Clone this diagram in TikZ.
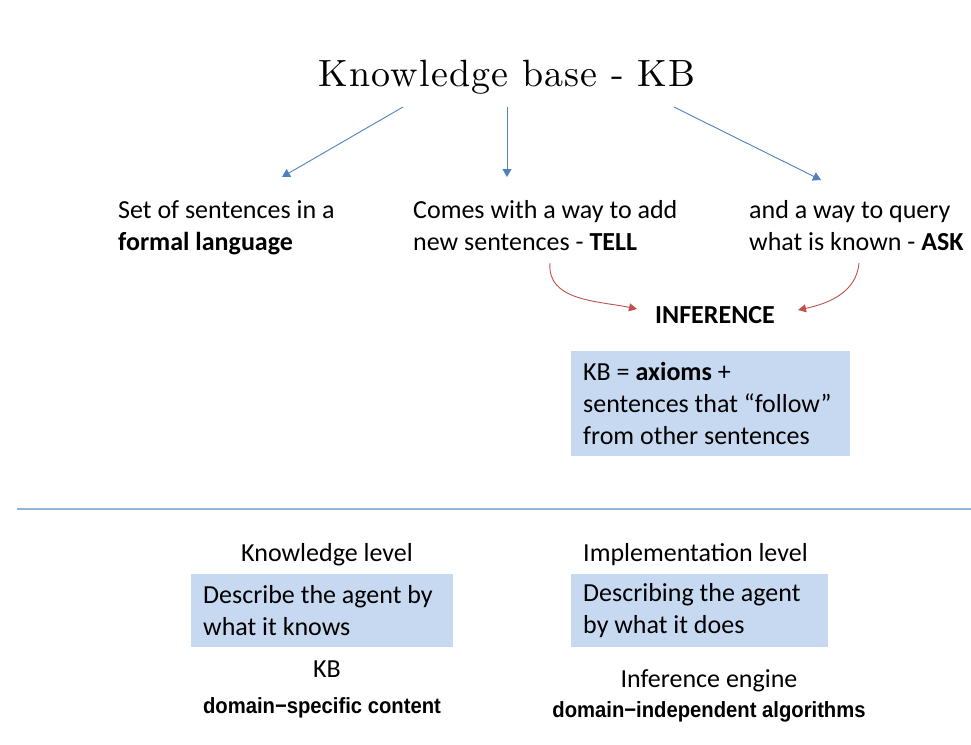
\documentclass[tikz,border=0pt]{standalone}
\usepackage{fontspec}
\setmainfont{Carlito}
\newfontfamily\titlefont[LetterSpace=3]{lmroman10-regular.otf}
\newfontfamily\narrowfont[FakeStretch=0.92]{Liberation Sans}
\usetikzlibrary{arrows.meta}
\definecolor{kbblue}{HTML}{4F81BD}
\definecolor{kbred}{HTML}{C0504D}
\definecolor{kbfill}{HTML}{C6D9F1}
\definecolor{kbrule}{HTML}{95B3D7}
\tikzset{
  txt/.style={inner sep=0pt, align=left, font=\fontsize{26}{32}\selectfont},
  ctxt/.style={inner sep=0pt, font=\fontsize{26}{32}\selectfont},
  small/.style={inner sep=0pt, font=\narrowfont\bfseries\fontsize{22}{26}\selectfont},
  kbox/.style={fill=kbfill, inner xsep=12pt, inner ysep=0pt, align=left, anchor=north west, font=\fontsize{26}{32}\selectfont},
  bluearrow/.style={draw=kbblue, line width=0.9pt, -{Triangle[length=8pt,width=9pt]}},
  redarrow/.style={draw=kbred, line width=0.9pt, -{Triangle[length=8pt,width=8pt]}},
}
\begin{document}
\begin{tikzpicture}[x=1pt,y=-1pt]
\useasboundingbox (0,0) rectangle (971,744);
% title
\node[inner sep=0pt, anchor=base, font=\titlefont\fontsize{38}{44}\selectfont] (title) at (507,86) {Knowledge base - KB};
% three statements (base = last line)
\node[txt, anchor=base west] (set) at (118,250) {Set of sentences in a\\\textbf{formal language}};
\node[txt, anchor=base west] (tell) at (413,250) {Comes with a way to add\\new sentences - \textbf{TELL}};
\node[txt, anchor=base west] (ask) at (749,250) {and a way to query\\what is known - \textbf{ASK}};
% blue arrows
\coordinate (a1s) at (403,107); \coordinate (a1e) at (282,177);
\coordinate (a2s) at (507,107); \coordinate (a2e) at (507,177);
\coordinate (a3s) at (674,107); \coordinate (a3e) at (821,180);
\draw[bluearrow] (a1s) -- (a1e);
\draw[bluearrow] (a2s) -- (a2e);
\draw[bluearrow] (a3s) -- (a3e);
% inference
\node[ctxt, anchor=base, font=\fontsize{26}{32}\selectfont\bfseries] (inf) at (715,323) {INFERENCE};
\coordinate (r1s) at (550,263); \coordinate (r1e) at (637,309);
\coordinate (r2s) at (859,263); \coordinate (r2e) at (798,310);
\draw[redarrow] (r1s) to[out=-95,in=168] (r1e);
\draw[redarrow] (r2s) to[out=-95,in=12] (r2e);
% axioms box
\node[kbox, minimum width=279pt, minimum height=105pt, text width=255pt] (axioms) at (571,351) {\spaceskip=0pt\xspaceskip=0pt\relax KB = \textbf{axioms} +\\sentences that “follow”\\from other sentences};
% separator
\coordinate (hl) at (17,509); \coordinate (hr) at (971,509);
\draw[kbrule, line width=1.6pt] (hl) -- (hr);
% bottom
\node[ctxt, anchor=base] (klev) at (327,561) {Knowledge level};
\node[kbox, minimum width=262pt, minimum height=73pt, text width=238pt] (kbox1) at (191,574) {\spaceskip=0pt\xspaceskip=0pt\relax Describe the agent by\\what it knows};
\node[ctxt, anchor=base] (kb) at (327,677) {KB};
\node[small, anchor=base] (dsc) at (322,713) {domain−specific content};
\node[ctxt, anchor=base west] (ilev) at (583,561) {Implementation level};
\node[kbox, minimum width=257pt, minimum height=73pt, text width=233pt] (ibox) at (571,574) {\spaceskip=0pt\xspaceskip=0pt\relax Describing the agent\\by what it does};
\node[ctxt, anchor=base] (ieng) at (709,687) {Inference engine};
\node[small, anchor=base] (dia) at (709,717) {domain−independent algorithms};
\end{tikzpicture}
\end{document}
